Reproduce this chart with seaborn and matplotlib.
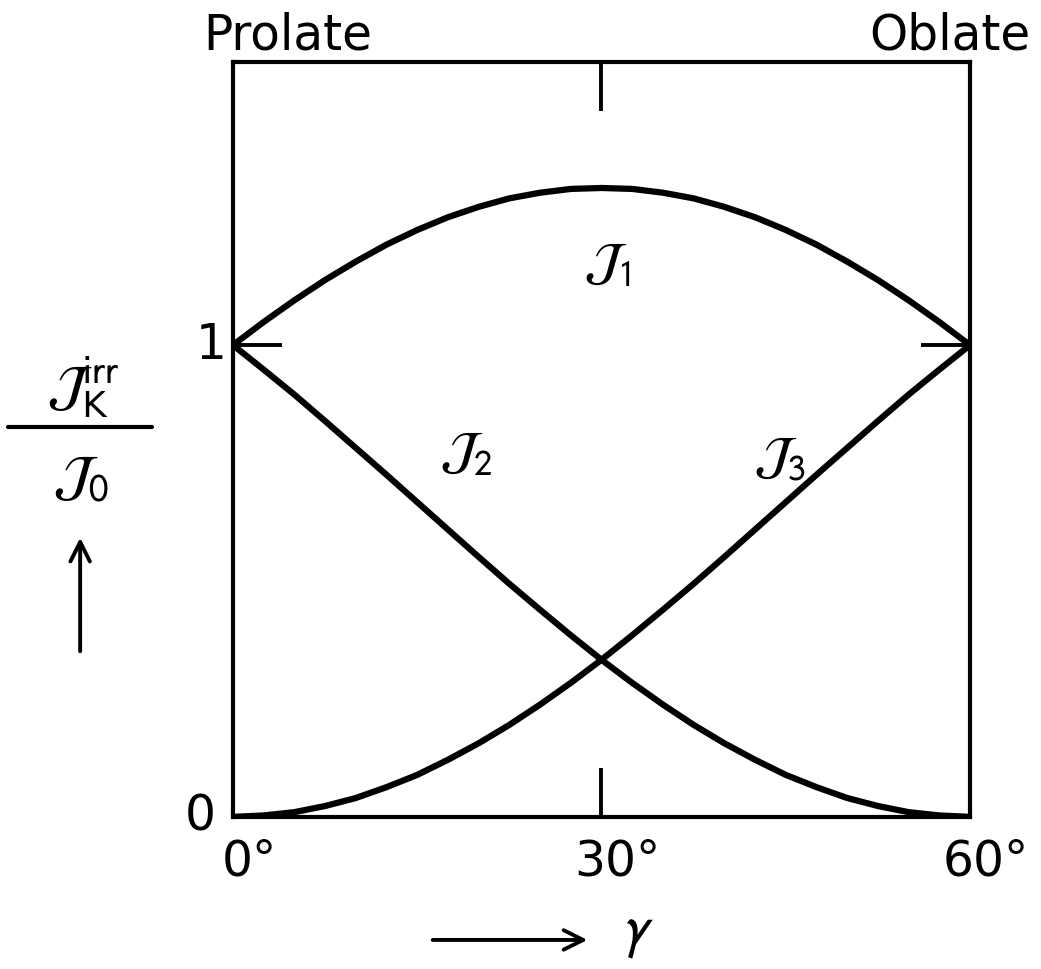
import numpy as np
import pandas as pd
import matplotlib
matplotlib.use("Agg")
import matplotlib.pyplot as plt
import seaborn as sns

# Irrotational moments of inertia J_k / J_0 versus the triaxiality angle gamma (deg)
gamma_deg = [0, 2.5, 5, 7.5, 10, 12.5, 15, 17.5, 20, 22.5, 25, 27.5, 30,
             32.5, 35, 37.5, 40, 42.5, 45, 47.5, 50, 52.5, 55, 57.5, 60]
j1 = [1.000, 1.049, 1.095, 1.138, 1.177, 1.213, 1.244, 1.271, 1.293, 1.311, 1.323, 1.331, 1.333,
      1.331, 1.323, 1.311, 1.293, 1.271, 1.244, 1.213, 1.177, 1.138, 1.095, 1.049, 1.000]
j2 = [1.000, 0.948, 0.895, 0.839, 0.782, 0.725, 0.667, 0.609, 0.551, 0.494, 0.439, 0.385, 0.333,
      0.284, 0.238, 0.195, 0.156, 0.121, 0.089, 0.063, 0.040, 0.023, 0.010, 0.003, 0.000]
j3 = [0.000, 0.003, 0.010, 0.023, 0.040, 0.063, 0.089, 0.121, 0.156, 0.195, 0.238, 0.284, 0.333,
      0.385, 0.439, 0.494, 0.551, 0.609, 0.667, 0.725, 0.782, 0.839, 0.895, 0.948, 1.000]
series_names = ["J1", "J2", "J3"]

x_tick_labels = ["0°", "30°", "60°"]
y_tick_labels = ["0", "1"]

df = pd.DataFrame({
    "gamma": gamma_deg * 3,
    "J": j1 + j2 + j3,
    "k": [s for s in series_names for _ in gamma_deg],
})

sns.set_theme(style="white")
plt.rcParams["font.family"] = ["DejaVu Sans"]
plt.rcParams["mathtext.fontset"] = "stixsans"
plt.rcParams["text.color"] = "black"

fig = plt.figure(figsize=(10.41, 9.69), dpi=100)
ax = fig.add_axes([0.2238, 0.157, 0.708, 0.779])

sns.lineplot(data=df, x="gamma", y="J", units="k", estimator=None,
             color="black", linewidth=4.5, ax=ax, legend=False)

ax.set_xlim(0, 60)
ax.set_ylim(0, 1.6)
ax.set_xlabel("")
ax.set_ylabel("")
for s in ax.spines.values():
    s.set_color("black")
    s.set_linewidth(3.0)

# inward tick marks at 30 deg (top & bottom) and at 1 (left & right)
ax.set_xticks([30])
ax.set_yticks([1])
ax.tick_params(axis="both", direction="in", length=35, width=2.8, color="black",
               top=True, bottom=True, left=True, right=True,
               labelbottom=False, labelleft=False)

fs = 35
tx = ax.transData
ta = ax.transAxes
ylab_tr = matplotlib.transforms.blended_transform_factory(ta, tx)
# x tick labels
for xv, lab in zip([0, 30, 60], x_tick_labels):
    ax.text(xv + 1.3, -0.095, lab, transform=tx, ha="center", va="center",
            fontsize=fs, clip_on=False)
# y tick labels
ax.text(-0.045, 0.0, y_tick_labels[0], transform=ylab_tr, ha="center", va="center",
        fontsize=fs, clip_on=False)
ax.text(-0.030, 1.0, y_tick_labels[1], transform=ylab_tr, ha="center", va="center",
        fontsize=fs, clip_on=False)

# shape labels above the frame
fig.text(0.276, 0.963, "Prolate", ha="center", va="center", fontsize=fs)
fig.text(0.912, 0.963, "Oblate", ha="center", va="center", fontsize=fs)

# curve labels
ax.text(30.5, 1.17, r"$\mathcal{J}_{\mathrm{1}}$", transform=tx, ha="center", va="center", fontsize=38)
ax.text(19.0, 0.77, r"$\mathcal{J}_{\mathrm{2}}$", transform=tx, ha="center", va="center", fontsize=38)
ax.text(44.5, 0.76, r"$\mathcal{J}_{\mathrm{3}}$", transform=tx, ha="center", va="center", fontsize=38)

# y-axis label: J_K^irr / J_0 with an upward arrow
fig.text(0.080, 0.600, r"$\mathcal{J}_{\mathrm{K}}^{\mathrm{irr}}$", ha="center", va="center", fontsize=40)
fig.text(0.078, 0.505, r"$\mathcal{J}_{\mathrm{0}}$", ha="center", va="center", fontsize=40)
fig.add_artist(matplotlib.lines.Line2D([0.008, 0.146], [0.559, 0.559], color="black",
                                       linewidth=3.0, transform=fig.transFigure))
fig.add_artist(matplotlib.patches.FancyArrowPatch((0.077, 0.325), (0.077, 0.448),
                                                  transform=fig.transFigure,
                                                  arrowstyle="->,head_length=14,head_width=7",
                                                  color="black", linewidth=2.8))

# x-axis label: arrow pointing to gamma
fig.add_artist(matplotlib.patches.FancyArrowPatch((0.413, 0.030), (0.567, 0.030),
                                                  transform=fig.transFigure,
                                                  arrowstyle="->,head_length=14,head_width=7",
                                                  color="black", linewidth=2.8))
fig.text(0.612, 0.038, r"$\gamma$", ha="center", va="center", fontsize=42)

fig.savefig("out.png", dpi=100)
